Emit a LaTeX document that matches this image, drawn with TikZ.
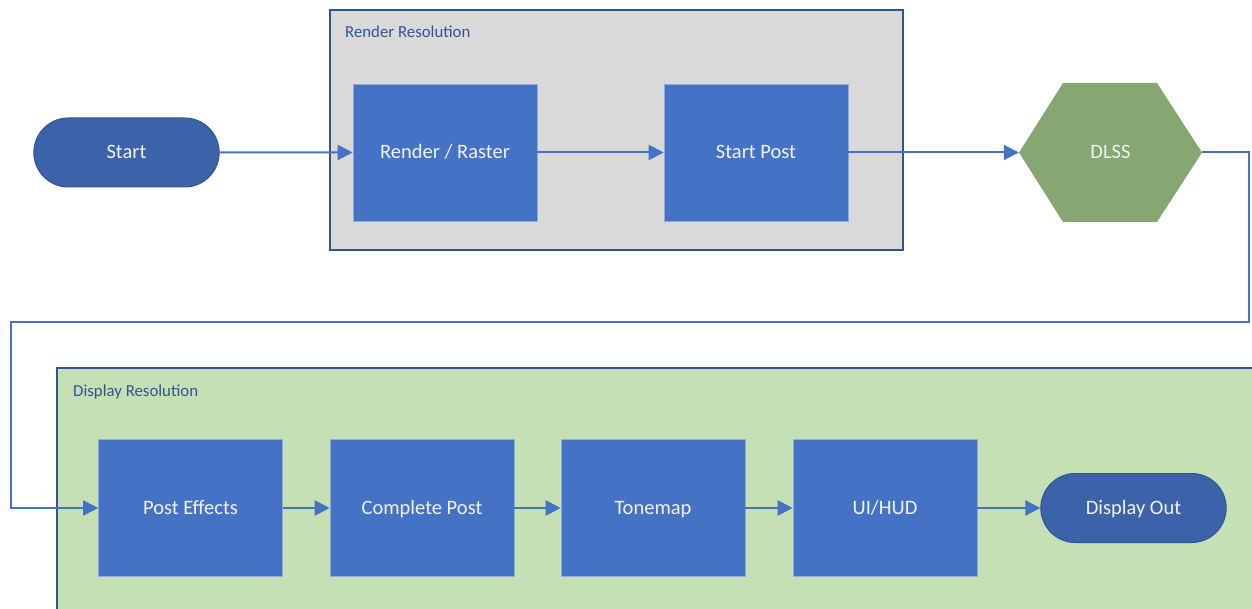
\documentclass[tikz,border=0pt]{standalone}
\usepackage{fontspec}
\setmainfont{Carlito}
\usetikzlibrary{positioning,arrows.meta,shapes.misc}
\definecolor{boxblue}{RGB}{68,114,196}
\definecolor{pillblue}{RGB}{60,99,169}
\definecolor{darkblue}{RGB}{47,85,151}
\definecolor{hexgreen}{RGB}{134,167,113}
\definecolor{rendergray}{RGB}{217,217,217}
\definecolor{displaygreen}{RGB}{197,224,180}
\definecolor{nodetext}{RGB}{242,242,242}
\tikzset{>={Triangle[length=15pt,width=15pt]}}
\tikzset{
procbox/.style={rectangle,fill=boxblue,draw=boxblue!60!white,line width=0.6pt,minimum width=184pt,minimum height=137pt,text=nodetext,font=\fontsize{20.5}{24}\selectfont,text height=13pt,text depth=0pt},
pill/.style={rounded rectangle,fill=pillblue,draw=darkblue,line width=1pt,minimum width=192pt,minimum height=69pt,text=nodetext,font=\fontsize{20.5}{24}\selectfont,text height=13pt,text depth=0pt},
hexlabel/.style={rectangle,minimum width=183pt,minimum height=139pt,inner sep=0pt,text=nodetext,font=\fontsize{20.5}{24}\selectfont,text height=13pt,text depth=0pt},
groupbox/.style={draw=darkblue,line width=1.5pt},
grouplabel/.style={anchor=west,inner sep=0pt,text=darkblue,font=\fontsize{16.8}{19}\selectfont,text height=11pt,text depth=0pt},
flow/.style={->,draw=boxblue,line width=2pt}
}

\begin{document}
\begin{tikzpicture}[x=1pt,y=-1pt]
\useasboundingbox (0,0) rectangle (1252,609);
\clip (0,0) rectangle (1252,609);
% resolution groups
\fill[rendergray,groupbox] (330,10) rectangle (903,250);
\node[grouplabel] (renderres) at (345,32) {Render Resolution};
\fill[displaygreen,groupbox] (57,368) rectangle (1262,619);
\node[grouplabel] (displayres) at (73,391) {Display Resolution};
% upper row
\node[pill] (start) at (126.5,152.5) {Start};
\node[procbox] (raster) at (445,152.5) {Render / Raster};
\node[procbox] (startpost) at (756,152.5) {Start Post};
\fill[hexgreen] (1019,152.5) -- (1063,83) -- (1157,83) -- (1202,152.5) -- (1157,222) -- (1063,222) -- cycle;
\node[hexlabel] (dlss) at (1110.5,152.5) {DLSS};
% lower row
\node[procbox] (post) at (190.5,508) {Post Effects};
\node[procbox] (complete) at (422,508) {Complete Post};
\node[procbox] (tonemap) at (653,508) {Tonemap};
\node[procbox] (uihud) at (885,508) {UI/HUD};
\node[pill] (dispout) at (1133.5,508) {Display Out};
\coordinate (turnR) at (1249,322);
\coordinate (turnL) at (11,322);
\draw[flow] (start) -- (raster);
\draw[flow] (raster) -- (startpost);
\draw[flow] (startpost) -- (dlss);
\draw[flow] (dlss.east) -| (turnR) -- (turnL) |- (post.west);
\draw[flow] (post) -- (complete);
\draw[flow] (complete) -- (tonemap);
\draw[flow] (tonemap) -- (uihud);
\draw[flow] (uihud) -- (dispout);
\end{tikzpicture}
\end{document}
